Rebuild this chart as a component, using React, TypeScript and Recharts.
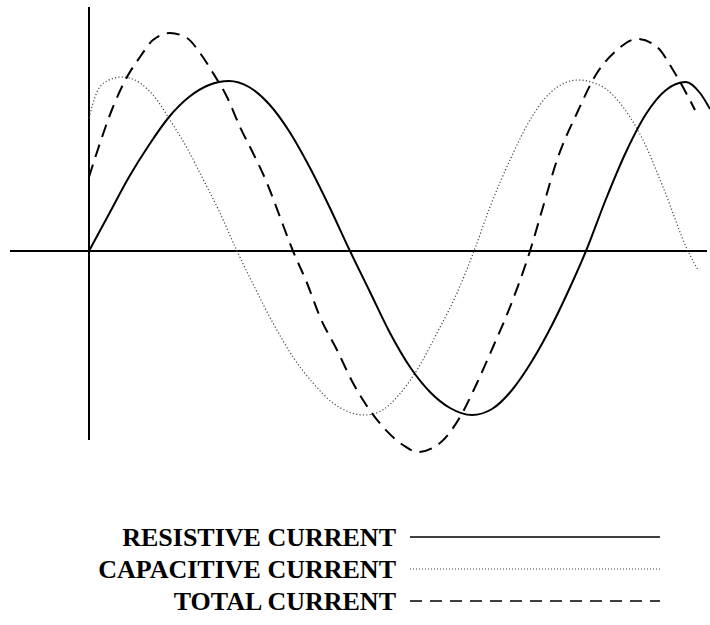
import React from "react";
import { LineChart, Line, XAxis, YAxis, ReferenceLine } from "recharts";

// x: phase position (0 at the vertical axis), y: instantaneous current (0 on the horizontal axis)
const resistiveX = [0, 20, 40, 60, 80, 100, 120, 140, 160, 180, 200, 220, 240, 261, 281, 301, 321, 341, 361, 383, 403, 423, 443, 463, 483, 497, 517, 537, 557, 577, 597, 611, 621];
const resistiveY = [0, 37, 74, 106, 134, 154, 166, 170, 164, 147, 120, 85, 45, 0, -41, -82, -116, -141, -157, -164, -158, -139, -110, -74, -32, 0, 52, 99, 137, 161, 169, 158, 142];

const capacitiveX = [0, 8, 18, 33, 51, 68, 81, 98, 114, 131, 148, 164, 184, 204, 224, 244, 276, 292, 308, 328, 348, 368, 385, 401, 421, 441, 461, 489, 514, 534, 554, 574, 599, 609];
const capacitiveY = [133, 159, 170, 174, 168, 151, 131, 103, 72, 38, 0, -33, -72, -106, -132, -152, -164, -160, -146, -119, -82, -42, 0, 44, 91, 131, 158, 171, 164, 144, 111, 64, 0, -19];

const totalX = [0, 11, 24, 38, 51, 64, 81, 98, 111, 124, 138, 151, 164, 178, 191, 204, 218, 231, 248, 264, 274, 294, 314, 329, 351, 371, 388, 404, 421, 441, 454, 468, 488, 508, 528, 548, 568, 584, 606];
const totalY = [74, 108, 144, 174, 194, 211, 218, 213, 198, 178, 154, 124, 98, 68, 34, 0, -32, -66, -99, -132, -149, -176, -194, -201, -192, -166, -132, -96, -56, 0, 44, 91, 138, 178, 201, 212, 204, 181, 141];

const seriesNames = ["RESISTIVE CURRENT", "CAPACITIVE CURRENT", "TOTAL CURRENT"];

const toPoints = (xs: number[], ys: number[]) => xs.map((x, i) => ({ x, y: ys[i] }));

const resistiveData = toPoints(resistiveX, resistiveY);
const capacitiveData = toPoints(capacitiveX, capacitiveY);
const totalData = toPoints(totalX, totalY);

const styles = [
  { stroke: "#000", strokeWidth: 2, dash: undefined as string | undefined },
  { stroke: "#444", strokeWidth: 1.2, dash: "1.2 2.2" },
  { stroke: "#000", strokeWidth: 2, dash: "13 8" },
];

export default function App() {
  return (
    <div style={{ position: "absolute", left: 0, top: 0, width: 710, height: 625, background: "#fff" }}>
      <LineChart width={710} height={625} margin={{ top: 0, right: 0, bottom: 0, left: 0 }}>
        <XAxis type="number" dataKey="x" domain={[-89, 621]} hide allowDataOverflow />
        <YAxis type="number" dataKey="y" domain={[-374, 251]} hide allowDataOverflow />
        <ReferenceLine segment={[{ x: -79, y: 0 }, { x: 618, y: 0 }]} stroke="#000" strokeWidth={2} ifOverflow="visible" />
        <ReferenceLine segment={[{ x: 0, y: 244 }, { x: 0, y: -189 }]} stroke="#000" strokeWidth={2} ifOverflow="visible" />
        <Line data={capacitiveData} dataKey="y" type="monotone" stroke={styles[1].stroke} strokeWidth={styles[1].strokeWidth} strokeDasharray={styles[1].dash} dot={false} activeDot={false} isAnimationActive={false} />
        <Line data={totalData} dataKey="y" type="monotone" stroke={styles[2].stroke} strokeWidth={styles[2].strokeWidth} strokeDasharray={styles[2].dash} dot={false} activeDot={false} isAnimationActive={false} />
        <Line data={resistiveData} dataKey="y" type="monotone" stroke={styles[0].stroke} strokeWidth={styles[0].strokeWidth} dot={false} activeDot={false} isAnimationActive={false} />
      </LineChart>
      <svg width={710} height={625} style={{ position: "absolute", left: 0, top: 0, pointerEvents: "none" }}>
        {seriesNames.map((name, i) => {
          const y = 537 + i * 32;
          const s = styles[i];
          return (
            <g key={name}>
              <text x={396} y={y + 9} textAnchor="end" fontFamily="'Liberation Serif', 'Times New Roman', serif" fontWeight="bold" fontSize={26} fill="#000">
                {name}
              </text>
              <line x1={410} x2={660} y1={y} y2={y} stroke={s.stroke} strokeWidth={i === 1 ? 1 : 1.6} strokeDasharray={i === 1 ? "1 2" : i === 2 ? "12 8" : undefined} />
            </g>
          );
        })}
      </svg>
    </div>
  );
}
